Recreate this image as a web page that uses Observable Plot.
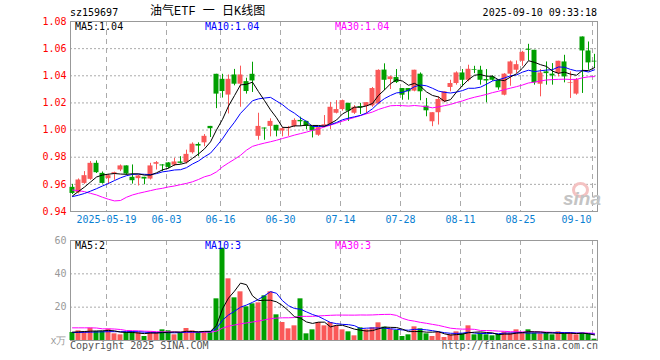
<!DOCTYPE html>
<html><head><meta charset="utf-8">
<script src="https://cdn.jsdelivr.net/npm/d3@7"></script>
<script src="https://cdn.jsdelivr.net/npm/@observablehq/plot@0.6"></script>
<style>
body{margin:0;background:#fff;}
#wrap{position:relative;width:660px;height:360px;overflow:hidden;font-family:"DejaVu Sans Mono",monospace;font-size:10px;color:#000;}
.t{position:absolute;white-space:pre;line-height:10px;z-index:3;}
.p{position:absolute;left:0;z-index:1;}
</style></head><body><div id="wrap">
<div id="price" class="p" style="top:0"></div>
<div id="vol" class="p" style="top:230px"></div>
<div class="t" style="left:70px;top:8px">sz159697</div>
<div class="t" style="left:150px;top:6px;font-size:12px;line-height:12px;font-family:'Liberation Mono','Noto Sans CJK SC',monospace">油气ETF 一 日K线图</div>
<div class="t" style="right:63px;top:8px">2025-09-10 09:33:18</div>
<div class="t" style="left:75px;top:22px">MA5:1.04</div>
<div class="t" style="left:205px;top:22px;color:#0000ff">MA10:1.04</div>
<div class="t" style="left:335px;top:22px;color:#ff00ff">MA30:1.04</div>
<div class="t" style="left:75px;top:241px">MA5:2</div>
<div class="t" style="left:205px;top:241px;color:#0000ff">MA10:3</div>
<div class="t" style="left:335px;top:241px;color:#ff00ff">MA30:3</div>
<div class="t" style="left:70px;top:341px;color:#555">Copyright 2025 SINA.COM</div>
<div class="t" style="right:62px;top:341px;color:#555">http://finance.sina.com.cn</div>
<div class="t" style="left:572px;top:182px;width:11px;height:10px;border:3px solid #f4c2c2;border-radius:50%;z-index:2"></div>
<div class="t" style="left:563px;top:191px;font:italic bold 19px 'Liberation Sans',sans-serif;line-height:16px;color:#c4c4c4;z-index:2">sina</div>
</div>
<script>
const dates = ["05-09","05-12","05-13","05-14","05-15","05-16","05-19","05-20","05-21","05-22",
"05-23","05-26","05-27","05-28","05-29","05-30","06-03","06-04","06-05","06-06",
"06-09","06-10","06-11","06-12","06-13","06-16","06-17","06-18","06-19","06-20",
"06-23","06-24","06-25","06-26","06-27","06-30","07-01","07-02","07-03","07-04",
"07-07","07-08","07-09","07-10","07-11","07-14","07-15","07-16","07-17","07-18",
"07-21","07-22","07-23","07-24","07-25","07-28","07-29","07-30","07-31","08-01",
"08-04","08-05","08-06","08-07","08-08","08-11","08-12","08-13","08-14","08-15",
"08-18","08-19","08-20","08-21","08-22","08-25","08-26","08-27","08-28","08-29",
"09-01","09-02","09-03","09-04","09-05","09-08","09-09","09-10"];

const open = [0.9578,0.9538,0.9607,0.9637,0.9755,0.9681,0.9642,0.9674,0.9706,0.9736,
0.9652,0.9642,0.9652,0.9639,0.9748,0.9743,0.9758,0.9741,0.9765,0.9760,
0.9833,0.9894,0.9906,1.0027,1.0411,1.0374,1.0258,1.0406,1.0338,1.0357,
1.0411,0.9954,1.0015,1.0027,1.0035,0.9993,1.0010,1.0027,1.0071,1.0064,
1.0027,0.9962,1.0027,1.0042,1.0124,1.0151,1.0197,1.0124,1.0173,1.0173,
1.0178,1.0192,1.0442,1.0372,1.0387,1.0306,1.0306,1.0287,1.0412,1.0176,
1.0061,1.0128,1.0208,1.0314,1.0343,1.0421,1.0367,1.0446,1.0441,1.0372,
1.0392,1.0367,1.0257,1.0412,1.0441,1.0507,1.0595,1.0588,1.0338,1.0429,
1.0412,1.0416,1.0502,1.0343,1.0265,1.0686,1.0583,1.0507];
const high = [0.9600,0.9640,0.9694,0.9768,0.9773,0.9691,0.9674,0.9690,0.9743,0.9736,
0.9743,0.9667,0.9652,0.9755,0.9768,0.9745,0.9760,0.9792,0.9804,0.9852,
0.9906,0.9906,0.9967,1.0027,1.0411,1.0411,1.0406,1.0447,1.0471,1.0382,
1.0500,1.0124,1.0015,1.0083,1.0035,1.0018,1.0027,1.0083,1.0095,1.0064,
1.0027,1.0018,1.0107,1.0204,1.0217,1.0221,1.0197,1.0180,1.0197,1.0202,
1.0314,1.0444,1.0488,1.0397,1.0446,1.0306,1.0306,1.0441,1.0421,1.0233,
1.0128,1.0245,1.0282,1.0367,1.0429,1.0446,1.0478,1.0470,1.0470,1.0446,
1.0400,1.0367,1.0416,1.0509,1.0509,1.0580,1.0632,1.0588,1.0446,1.0502,
1.0490,1.0507,1.0551,1.0429,1.0380,1.0686,1.0649,1.0558];
const low = [0.9525,0.9530,0.9600,0.9630,0.9680,0.9602,0.9597,0.9630,0.9694,0.9667,
0.9602,0.9588,0.9597,0.9632,0.9706,0.9694,0.9715,0.9731,0.9750,0.9750,
0.9823,0.9804,0.9877,0.9945,1.0158,1.0236,1.0119,1.0326,1.0168,1.0265,
1.0277,0.9925,0.9925,0.9950,0.9950,0.9950,0.9954,1.0018,1.0027,1.0003,
0.9942,0.9954,1.0018,1.0003,1.0119,1.0139,1.0064,1.0115,1.0115,1.0119,
1.0168,1.0187,1.0290,1.0299,1.0343,1.0220,1.0220,1.0282,1.0216,1.0098,
1.0025,1.0037,1.0201,1.0282,1.0331,1.0318,1.0355,1.0416,1.0331,1.0201,
1.0360,1.0294,1.0252,1.0323,1.0416,1.0470,1.0509,1.0331,1.0245,1.0331,
1.0331,1.0392,1.0348,1.0233,1.0257,1.0270,1.0441,1.0453];
const close = [0.9533,0.9632,0.9664,0.9755,0.9686,0.9607,0.9664,0.9686,0.9736,0.9676,
0.9627,0.9662,0.9639,0.9736,0.9760,0.9736,0.9725,0.9765,0.9755,0.9821,
0.9896,0.9882,0.9954,1.0010,1.0265,1.0284,1.0374,1.0338,1.0406,1.0284,
1.0362,1.0027,1.0008,1.0064,0.9993,1.0010,1.0018,1.0071,1.0061,1.0027,
0.9993,1.0018,1.0039,1.0168,1.0151,1.0217,1.0139,1.0168,1.0163,1.0202,
1.0306,1.0440,1.0367,1.0392,1.0350,1.0257,1.0282,1.0441,1.0282,1.0142,
1.0128,1.0225,1.0282,1.0343,1.0421,1.0367,1.0448,1.0441,1.0367,1.0362,
1.0367,1.0311,1.0412,1.0502,1.0482,1.0573,1.0588,1.0348,1.0421,1.0416,
1.0399,1.0507,1.0392,1.0348,1.0372,1.0583,1.0495,1.0502];

const ma5 = [0.9515,0.9548,0.9580,0.9617,0.9654,0.9669,0.9675,0.9680,0.9676,0.9674,
0.9678,0.9677,0.9668,0.9668,0.9685,0.9707,0.9719,0.9744,0.9748,0.9760,
0.9792,0.9824,0.9862,0.9913,1.0001,1.0079,1.0177,1.0254,1.0333,1.0337,
1.0353,1.0283,1.0217,1.0149,1.0091,1.0020,1.0019,1.0031,1.0031,1.0037,
1.0034,1.0034,1.0028,1.0049,1.0074,1.0119,1.0143,1.0169,1.0168,1.0178,
1.0196,1.0256,1.0296,1.0341,1.0371,1.0361,1.0330,1.0344,1.0322,1.0281,
1.0255,1.0244,1.0212,1.0224,1.0280,1.0328,1.0372,1.0404,1.0409,1.0397,
1.0397,1.0370,1.0364,1.0391,1.0415,1.0456,1.0511,1.0499,1.0482,1.0469,
1.0434,1.0418,1.0427,1.0412,1.0404,1.0440,1.0438,1.0460];
const ma10 = [0.9510,0.9520,0.9533,0.9550,0.9568,0.9588,0.9607,0.9628,0.9648,0.9664,
0.9673,0.9676,0.9674,0.9672,0.9679,0.9692,0.9698,0.9706,0.9708,0.9723,
0.9750,0.9772,0.9803,0.9830,0.9881,0.9936,1.0001,1.0058,1.0123,1.0169,
1.0216,1.0230,1.0236,1.0241,1.0214,1.0187,1.0151,1.0124,1.0090,1.0064,
1.0027,1.0026,1.0029,1.0040,1.0056,1.0076,1.0088,1.0098,1.0108,1.0126,
1.0157,1.0199,1.0232,1.0255,1.0274,1.0278,1.0293,1.0320,1.0332,1.0326,
1.0308,1.0287,1.0278,1.0273,1.0280,1.0291,1.0308,1.0308,1.0316,1.0338,
1.0362,1.0371,1.0384,1.0400,1.0406,1.0427,1.0441,1.0431,1.0437,1.0442,
1.0445,1.0465,1.0463,1.0447,1.0436,1.0437,1.0428,1.0444];
const ma30 = [0.9558,0.9554,0.9546,0.9534,0.9522,0.9505,0.9490,0.9478,0.9481,0.9505,
0.9522,0.9534,0.9544,0.9554,0.9564,0.9571,0.9581,0.9588,0.9598,0.9607,
0.9619,0.9636,0.9656,0.9668,0.9692,0.9729,0.9758,0.9785,0.9814,0.9852,
0.9880,0.9893,0.9904,0.9914,0.9925,0.9938,0.9950,0.9963,0.9974,0.9985,
0.9998,1.0009,1.0023,1.0037,1.0050,1.0066,1.0080,1.0093,1.0107,1.0120,
1.0133,1.0152,1.0166,1.0179,1.0181,1.0180,1.0177,1.0181,1.0177,1.0172,
1.0164,1.0171,1.0180,1.0189,1.0203,1.0215,1.0230,1.0242,1.0252,1.0263,
1.0276,1.0286,1.0298,1.0309,1.0320,1.0332,1.0347,1.0353,1.0362,1.0369,
1.0372,1.0374,1.0375,1.0373,1.0374,1.0385,1.0392,1.0394];

const volume = [4.8,5.8,5.2,7.4,5.4,5.4,6.8,4.0,3.4,4.8,
5.2,4.8,2.4,5.2,4.8,6.4,5.8,3.4,4.8,7.2,
5.8,4.8,4.8,5.0,25.0,55.4,37.0,25.6,29.2,20.2,
22.0,22.6,26.8,29.2,15.4,10.8,7.0,8.8,25.0,4.0,
6.4,10.8,8.8,10.8,8.8,6.4,5.2,2.8,7.6,6.4,
7.6,10.6,8.0,6.8,6.0,2.4,3.4,8.2,7.0,4.0,
2.4,4.8,1.8,3.4,5.2,4.0,8.8,3.4,4.4,3.4,
2.8,3.6,5.0,4.4,6.4,4.4,6.4,4.4,4.0,4.4,
3.4,5.2,4.4,4.4,3.4,4.4,3.6,0.8];
const vma5 = [5.0,5.2,5.4,5.6,5.72,5.84,6.04,5.8,5.0,4.88,
4.84,4.44,4.12,4.48,4.48,4.72,4.92,5.12,5.04,5.52,
5.4,5.2,5.48,5.52,9.08,19.0,25.44,29.6,34.44,33.48,
26.8,23.92,24.16,24.16,23.2,20.96,17.84,14.24,13.4,11.12,
10.24,11.0,11.0,8.16,9.12,9.12,8.0,6.8,6.16,5.68,
5.92,7.0,8.04,7.88,7.8,6.76,5.32,5.36,5.4,5.0,
5.0,5.28,4.0,3.28,3.52,3.84,4.64,4.96,5.16,4.8,
4.56,3.52,3.84,3.84,4.44,4.76,5.32,5.2,5.12,4.72,
4.52,4.28,4.28,4.36,4.16,4.36,4.04,3.32];
const vma10 = [4.8,4.8,4.9,5.0,5.1,5.2,5.3,5.3,5.3,5.3,
5.34,5.24,4.96,4.74,4.68,4.78,4.68,4.62,4.76,5.0,
5.06,5.06,5.3,5.28,7.3,12.2,15.32,17.54,19.98,21.28,
22.9,24.68,26.88,29.3,28.34,23.88,20.88,19.2,18.78,17.16,
15.6,14.42,12.62,10.78,10.12,9.68,9.5,8.9,7.16,7.4,
7.52,7.5,7.42,7.02,6.74,6.34,6.16,6.7,6.64,6.4,
5.88,5.3,4.68,4.34,4.26,4.42,4.96,4.48,4.22,4.16,
4.2,4.08,4.4,4.5,4.62,4.66,4.42,4.52,4.48,4.58,
4.64,4.8,4.74,4.74,4.44,4.44,4.16,3.8];
const vma30 = [7.6,7.6,7.6,7.6,7.5,7.0,7.0,6.9,6.6,6.0,
5.9,5.8,5.6,5.5,5.3,5.2,5.2,5.1,5.0,5.0,
5.0,5.0,5.0,5.0,5.6,7.4,8.6,9.3,10.0,10.53,
11.1,11.66,12.38,13.11,13.44,13.62,13.63,13.79,14.51,14.48,
14.52,14.72,14.93,15.12,15.25,15.25,15.23,15.21,15.31,15.28,
15.34,15.53,15.64,15.7,15.07,13.3,12.18,11.6,10.86,10.32,
9.67,9.07,8.24,7.38,7.04,6.81,6.87,6.69,6.01,5.99,
5.87,5.63,5.5,5.29,5.21,5.14,5.18,5.23,5.11,5.05,
4.91,4.73,4.61,4.53,4.44,4.51,4.51,4.27];

const priceTicks = [0.94,0.96,0.98,1.00,1.02,1.04,1.06,1.08];
const volTicks = [0,20,40,60];
const volTickLabels = ["x万","20","40","60"];
const dateTicks = ["05-19","06-03","06-16","06-30","07-14","07-28","08-11","08-25","09-10"];
const dateTickLabels = ["2025-05-19","06-03","06-16","06-30","07-14","07-28","08-11","08-25","09-10"];

const UP = "#fa5858", DOWN = "#009f00", BLUE = "#0a80d2";
const rows = dates.map((d, i) => ({
  i, date: d, o: open[i], h: high[i], l: low[i], c: close[i],
  m5: ma5[i], m10: ma10[i], m30: ma30[i],
  v: volume[i], v5: vma5[i], v10: vma10[i], v30: vma30[i],
  col: close[i] >= open[i] ? UP : DOWN
}));
const ticks = dateTicks.map((d, k) => ({i: dates.indexOf(d), label: dateTickLabels[k], last: k === dateTicks.length - 1}));
const HW = 2.5 / 6;
const G = 1 / 3;
const xOpt = {type: "linear", domain: [-1/3, 87.5], axis: null};
const style = {fontFamily: "DejaVu Sans Mono, monospace", fontSize: "10px", background: "transparent", overflow: "visible"};
const gridV = Plot.ruleX(ticks, {x: d => d.i - G, stroke: "#aaa", strokeDasharray: "5,4"});

const price = Plot.plot({
  width: 660, height: 235,
  marginLeft: 70, marginRight: 63, marginTop: 21, marginBottom: 24,
  style,
  x: xOpt,
  y: {domain: [0.94, 1.08], axis: null},
  color: {type: "identity"},
  marks: [
    Plot.ruleY(priceTicks.slice(1, -1), {y: d => d, stroke: "#aaa", strokeDasharray: "2,2"}),
    gridV,
    Plot.frame({stroke: "#999"}),
    Plot.ruleX(rows, {x: "i", y1: "l", y2: "h", stroke: "col"}),
    Plot.rect(rows, {x1: d => d.i - HW, x2: d => d.i + HW, y1: "o", y2: "c", fill: "col"}),
    Plot.line(rows, {x: "i", y: "m30", stroke: "#ff00ff", strokeWidth: 1}),
    Plot.line(rows, {x: "i", y: "m10", stroke: "#0000ff", strokeWidth: 1}),
    Plot.line(rows, {x: "i", y: "m5", stroke: "#000", strokeWidth: 1}),
    Plot.text(priceTicks, {y: d => d, text: d => d.toFixed(2), frameAnchor: "left", textAnchor: "end", dx: -4, fill: "#ff0000"}),
    Plot.text(ticks.filter(t => !t.last), {x: d => d.i - G, text: "label", frameAnchor: "bottom", dy: 11, fill: BLUE}),
    Plot.text(ticks.filter(t => t.last), {x: d => d.i - G, text: "label", frameAnchor: "bottom", dy: 11, textAnchor: "end", dx: -1, fill: BLUE})
  ]
});
document.getElementById("price").appendChild(price);

const vol = Plot.plot({
  width: 660, height: 130,
  marginLeft: 70, marginRight: 63, marginTop: 10, marginBottom: 20,
  style,
  x: xOpt,
  y: {domain: [0, 60], axis: null},
  color: {type: "identity"},
  marks: [
    Plot.ruleY([20, 40], {y: d => d, stroke: "#aaa", strokeDasharray: "2,2"}),
    gridV,
    Plot.frame({stroke: "#999"}),
    Plot.rect(rows, {x1: d => d.i - HW, x2: d => d.i + HW, y1: d => 0, y2: "v", fill: "col"}),
    Plot.line(rows, {x: "i", y: "v30", stroke: "#ff00ff", strokeWidth: 1}),
    Plot.line(rows, {x: "i", y: "v10", stroke: "#0000ff", strokeWidth: 1}),
    Plot.line(rows, {x: "i", y: "v5", stroke: "#000", strokeWidth: 1}),
    Plot.text(volTicks, {y: d => d, text: (d, k) => volTickLabels[k], frameAnchor: "left", textAnchor: "end", dx: -4, fill: "#999"})
  ]
});
document.getElementById("vol").appendChild(vol);
</script>
</body></html>
